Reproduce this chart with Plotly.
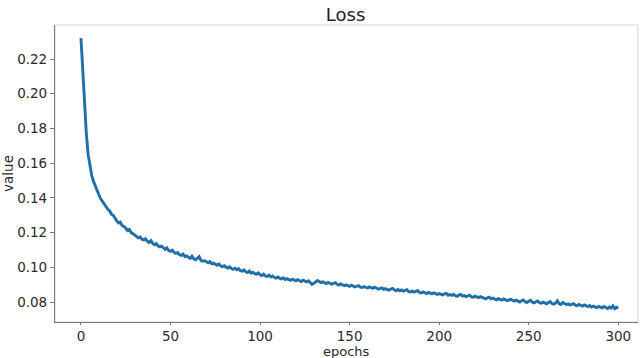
import plotly.graph_objects as go

epochs = list(range(0, 301))

loss = [
    0.2320, 0.2120, 0.1960, 0.1770, 0.1650, 0.1575, 0.1530, 0.1495, 0.1466, 0.1442,
    0.1418, 0.1395, 0.1380, 0.1360, 0.1350, 0.1334, 0.1326, 0.1306, 0.1300, 0.1280,
    0.1268, 0.1255, 0.1260, 0.1240, 0.1236, 0.1225, 0.1212, 0.1218, 0.1200, 0.1194,
    0.1186, 0.1178, 0.1170, 0.1175, 0.1162, 0.1158, 0.1165, 0.1150, 0.1143, 0.1154,
    0.1138, 0.1130, 0.1136, 0.1124, 0.1118, 0.1122, 0.1110, 0.1104, 0.1112, 0.1096,
    0.1092, 0.1099, 0.1086, 0.1080, 0.1085, 0.1072, 0.1069, 0.1077, 0.1062, 0.1066,
    0.1058, 0.1052, 0.1064, 0.1048, 0.1043, 0.1051, 0.1062, 0.1040, 0.1035, 0.1038,
    0.1030, 0.1026, 0.1033, 0.1020, 0.1024, 0.1016, 0.1012, 0.1019, 0.1008, 0.1004,
    0.1009, 0.1001, 0.0996, 0.1003, 0.0993, 0.0989, 0.0995, 0.0986, 0.0992, 0.0980,
    0.0978, 0.0985, 0.0974, 0.0970, 0.0979, 0.0966, 0.0972, 0.0963, 0.0960, 0.0968,
    0.0957, 0.0953, 0.0961, 0.0950, 0.0947, 0.0955, 0.0944, 0.0950, 0.0941, 0.0938,
    0.0944, 0.0936, 0.0933, 0.0940, 0.0930, 0.0935, 0.0928, 0.0925, 0.0932, 0.0927,
    0.0922, 0.0929, 0.0924, 0.0918, 0.0926, 0.0920, 0.0916, 0.0922, 0.0913, 0.0902,
    0.0908, 0.0915, 0.0924, 0.0918, 0.0912, 0.0916, 0.0910, 0.0906, 0.0913, 0.0909,
    0.0903, 0.0907, 0.0911, 0.0902, 0.0898, 0.0904, 0.0900, 0.0894, 0.0899, 0.0896,
    0.0890, 0.0897, 0.0893, 0.0887, 0.0891, 0.0895, 0.0886, 0.0884, 0.0889, 0.0885,
    0.0881, 0.0887, 0.0883, 0.0879, 0.0886, 0.0880, 0.0874, 0.0878, 0.0882, 0.0873,
    0.0877, 0.0871, 0.0868, 0.0875, 0.0879, 0.0869, 0.0866, 0.0872, 0.0865, 0.0870,
    0.0863, 0.0867, 0.0871, 0.0860, 0.0858, 0.0864, 0.0857, 0.0861, 0.0866, 0.0855,
    0.0852, 0.0858, 0.0854, 0.0849, 0.0856, 0.0851, 0.0847, 0.0853, 0.0848, 0.0844,
    0.0849, 0.0845, 0.0841, 0.0847, 0.0850, 0.0839, 0.0843, 0.0838, 0.0845, 0.0836,
    0.0833, 0.0840, 0.0844, 0.0834, 0.0837, 0.0831, 0.0835, 0.0839, 0.0830, 0.0828,
    0.0834, 0.0829, 0.0825, 0.0831, 0.0827, 0.0821, 0.0818, 0.0824, 0.0828, 0.0819,
    0.0823, 0.0817, 0.0813, 0.0820, 0.0816, 0.0811, 0.0818, 0.0814, 0.0808, 0.0812,
    0.0815, 0.0809, 0.0806, 0.0811, 0.0803, 0.0800, 0.0807, 0.0812, 0.0801, 0.0797,
    0.0804, 0.0810, 0.0799, 0.0795, 0.0802, 0.0806, 0.0796, 0.0793, 0.0799, 0.0794,
    0.0790, 0.0797, 0.0803, 0.0791, 0.0788, 0.0795, 0.0807, 0.0790, 0.0786, 0.0798,
    0.0792, 0.0785, 0.0789, 0.0783, 0.0787, 0.0791, 0.0782, 0.0779, 0.0786, 0.0781,
    0.0777, 0.0783, 0.0779, 0.0774, 0.0780, 0.0771, 0.0776, 0.0773, 0.0768, 0.0775,
    0.0770, 0.0766, 0.0774, 0.0768, 0.0763, 0.0771, 0.0765, 0.0778, 0.0762, 0.0770,
    0.0764,
]

x_ticks = [0, 50, 100, 150, 200, 250, 300]
y_ticks = [0.08, 0.10, 0.12, 0.14, 0.16, 0.18, 0.20, 0.22]
y_tick_labels = ["0.08", "0.10", "0.12", "0.14", "0.16", "0.18", "0.20", "0.22"]

FONT = "DejaVu Sans, Liberation Sans, sans-serif"

fig = go.Figure()
fig.add_trace(go.Scatter(
    x=epochs, y=loss, mode="lines",
    line=dict(color="#1f6fa8", width=2.9),
    showlegend=False,
))

fig.add_shape(type="rect", xref="paper", yref="paper", x0=0, y0=0, x1=1, y1=1,
              line=dict(color="#e2e2e2", width=1.5), layer="below")

fig.add_annotation(text="epochs", xref="paper", yref="paper", x=0.5, y=0,
                   xanchor="center", yanchor="middle", yshift=-29.5, showarrow=False,
                   font=dict(size=13, color="#2a2a2a"))

fig.update_layout(
    width=640, height=358,
    margin=dict(l=55, r=2, t=25, b=36),
    paper_bgcolor="white", plot_bgcolor="white",
    font=dict(family=FONT, size=13.5, color="#2a2a2a"),
    title=dict(text="Loss", x=0.54, xanchor="center", y=0.958, yanchor="middle",
               font=dict(size=18, color="#222")),
)
fig.update_xaxes(
    range=[-14.5, 311], tickvals=x_ticks, ticks="outside", ticklen=2,
    tickcolor="#777", showline=True, linecolor="#7a7a7a", linewidth=1.2,
    showgrid=False, zeroline=False,
)
fig.update_yaxes(
    range=[0.0685, 0.2396], tickvals=y_ticks, ticktext=y_tick_labels,
    ticks="outside", ticklen=4, tickcolor="#777",
    showline=True, linecolor="#7a7a7a", linewidth=1.2,
    showgrid=False, zeroline=False,
    title=dict(text="value", standoff=3, font=dict(size=13.5)),
)

fig.write_html("out.html", config={"displayModeBar": False},
               post_script="document.body.style.margin='0';")
